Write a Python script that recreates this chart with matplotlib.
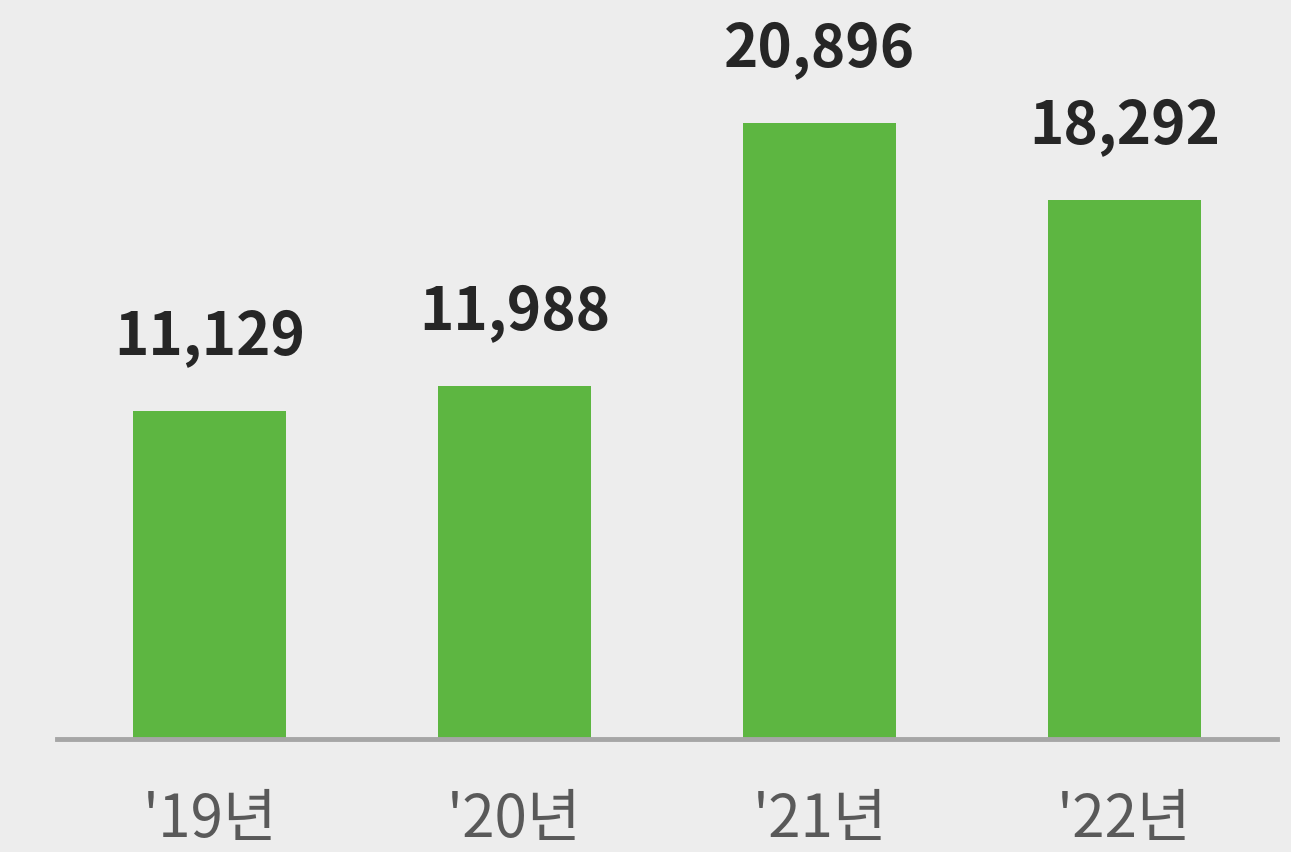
import matplotlib
matplotlib.use("Agg")
import matplotlib.pyplot as plt

categories = ["'19년", "'20년", "'21년", "'22년"]
values = [11129, 11988, 20896, 18292]
value_labels = ["11,129", "11,988", "20,896", "18,292"]

W, H, DPI = 1291, 853, 100
fig = plt.figure(figsize=(W / DPI, H / DPI), dpi=DPI, facecolor="#ededed")
base_px = 740
ax = fig.add_axes([57 / W, (H - base_px) / H, 1220 / W, base_px / H])
ax.set_facecolor("#ededed")

x = list(range(len(categories)))
ax.bar(x, values, width=0.5, color="#5db641", zorder=2)
ax.set_xlim(-0.5, 3.5)
ax.set_ylim(0, base_px / 0.02948)

for s in ["top", "right", "left"]:
    ax.spines[s].set_visible(False)
ax.spines["bottom"].set_color("#a6a6a6")
ax.spines["bottom"].set_linewidth(3.5)
ax.set_xticks([])
ax.set_yticks([])

px2pt = 72 / DPI
for xi, v, lab in zip(x, values, value_labels):
    ax.annotate(lab, xy=(xi, v), xytext=(0, 57 * px2pt), textcoords="offset points",
                ha="center", va="baseline", fontsize=42, fontweight="bold",
                color="#262626", family=["Noto Sans CJK KR", "DejaVu Sans"])

for xi, c in zip(x, categories):
    ax.annotate(c, xy=(xi, 0), xycoords=("data", "axes fraction"),
                xytext=(0, -97 * px2pt), textcoords="offset points",
                ha="center", va="baseline", fontsize=42,
                color="#595959", family=["Noto Sans CJK KR", "DejaVu Sans"])

fig.savefig("out.png", dpi=DPI, facecolor=fig.get_facecolor())
